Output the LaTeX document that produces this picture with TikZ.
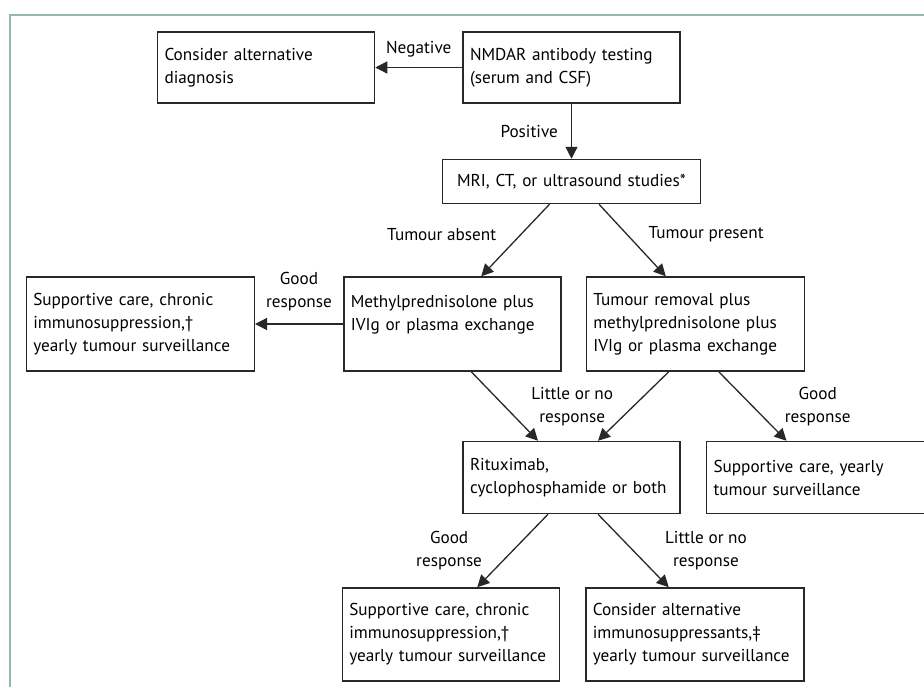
\documentclass[tikz,border=0pt]{standalone}
\usepackage{fontspec}
\setmainfont{PT Sans}
\usepackage{tikz}
\usetikzlibrary{arrows.meta,positioning}
\definecolor{framegreen}{RGB}{150,182,176}
\definecolor{boxline}{RGB}{40,40,40}
\hyphenpenalty=10000
\exhyphenpenalty=10000

\begin{document}
\begin{tikzpicture}[>={Triangle[length=6pt,width=6pt]},
  flowbox/.style={draw=boxline,line width=0.75pt,inner xsep=3.5pt,text width=101.5pt,align=left,
    font=\fontsize{8.6}{11.5}\selectfont},
  arr/.style={->,line width=0.65pt,draw=boxline},
  lbl/.style={inner sep=2pt,align=center,font=\fontsize{8.6}{11.5}\selectfont}]
\useasboundingbox (0,0) rectangle (462pt,-343.5pt);
\draw[framegreen,line width=1pt] (462pt,-7.5pt) -- (5pt,-7.5pt) -- (5pt,-343.5pt);

\node[flowbox,minimum height=35.5pt] (test) at (285.75pt,-33.75pt) {NMDAR antibody testing\\(serum and CSF)};
\node[flowbox,minimum height=35.5pt,left=43.5pt of test] (alt) {Consider alternative\\diagnosis};
\node[flowbox,minimum height=22pt,text width=122pt,align=center,below=27.5pt of test] (img)
  {MRI, CT, or ultrasound studies*};
\node[flowbox,minimum height=47pt,below left=36pt and 5pt of img.south] (mp)
  {Methylprednisolone plus\\IVIg or plasma exchange\\\mbox{}};
\node[flowbox,minimum height=47pt,text width=102pt,below right=36pt and 7pt of img.south] (tr)
  {Tumour removal plus\\methylprednisolone plus\\IVIg or plasma exchange};
\node[flowbox,minimum height=47pt,text width=107pt,left=44pt of mp] (sc)
  {Supportive care, chronic\\immunosuppression,†\\yearly tumour surveillance};
\node[flowbox,minimum height=36pt,below=168.5pt of test] (rx) {Rituximab,\\cyclophosphamide or both};
\node[flowbox,minimum height=36pt,text width=102pt,right=12.5pt of rx] (sy)
  {Supportive care, yearly\\tumour surveillance};
\node[flowbox,minimum height=46.5pt,below left=36.5pt and 5.75pt of rx.south] (scb)
  {Supportive care, chronic\\immunosuppression,†\\yearly tumour surveillance};
\node[flowbox,minimum height=46.5pt,text width=102pt,below right=36.5pt and 6.75pt of rx.south] (ai)
  {Consider alternative\\immunosuppressants,‡\\yearly tumour surveillance};

\draw[arr] (test) -- node[lbl,above=3pt]{Negative} (alt);
\draw[arr] (test.south) -- node[lbl,left=4.5pt]{Positive} (test.south |- img.north);
\draw[arr] ([xshift=-11pt]img.south) -- node[lbl,pos=0.42,left=10pt]{Tumour absent} ([xshift=14.5pt]mp.north);
\draw[arr] ([xshift=13.75pt]img.south) -- node[lbl,pos=0.42,right=8.5pt]{Tumour present} ([xshift=-14.75pt]tr.north);
\draw[arr] (mp) -- node[lbl,above=4pt]{Good\\response} (sc);
\draw[arr] ([xshift=9.5pt]mp.south) -- node[lbl,midway,right=11pt]{Little or no\\response} ([xshift=-16.75pt]rx.north);
\draw[arr] ([xshift=-13.25pt]tr.south) -- ([xshift=13.25pt]rx.north);
\draw[arr] ([xshift=11.75pt]tr.south) -- node[lbl,midway,right=13.75pt]{Good\\response} ([xshift=-14.5pt]sy.north);
\draw[arr] ([xshift=-11.75pt]rx.south) -- node[lbl,midway,left=13pt]{Good\\response} ([xshift=13.25pt]scb.north);
\draw[arr] ([xshift=13.25pt]rx.south) -- node[lbl,midway,right=13.5pt]{Little or no\\response} ([xshift=-13pt]ai.north);
\end{tikzpicture}
\end{document}
